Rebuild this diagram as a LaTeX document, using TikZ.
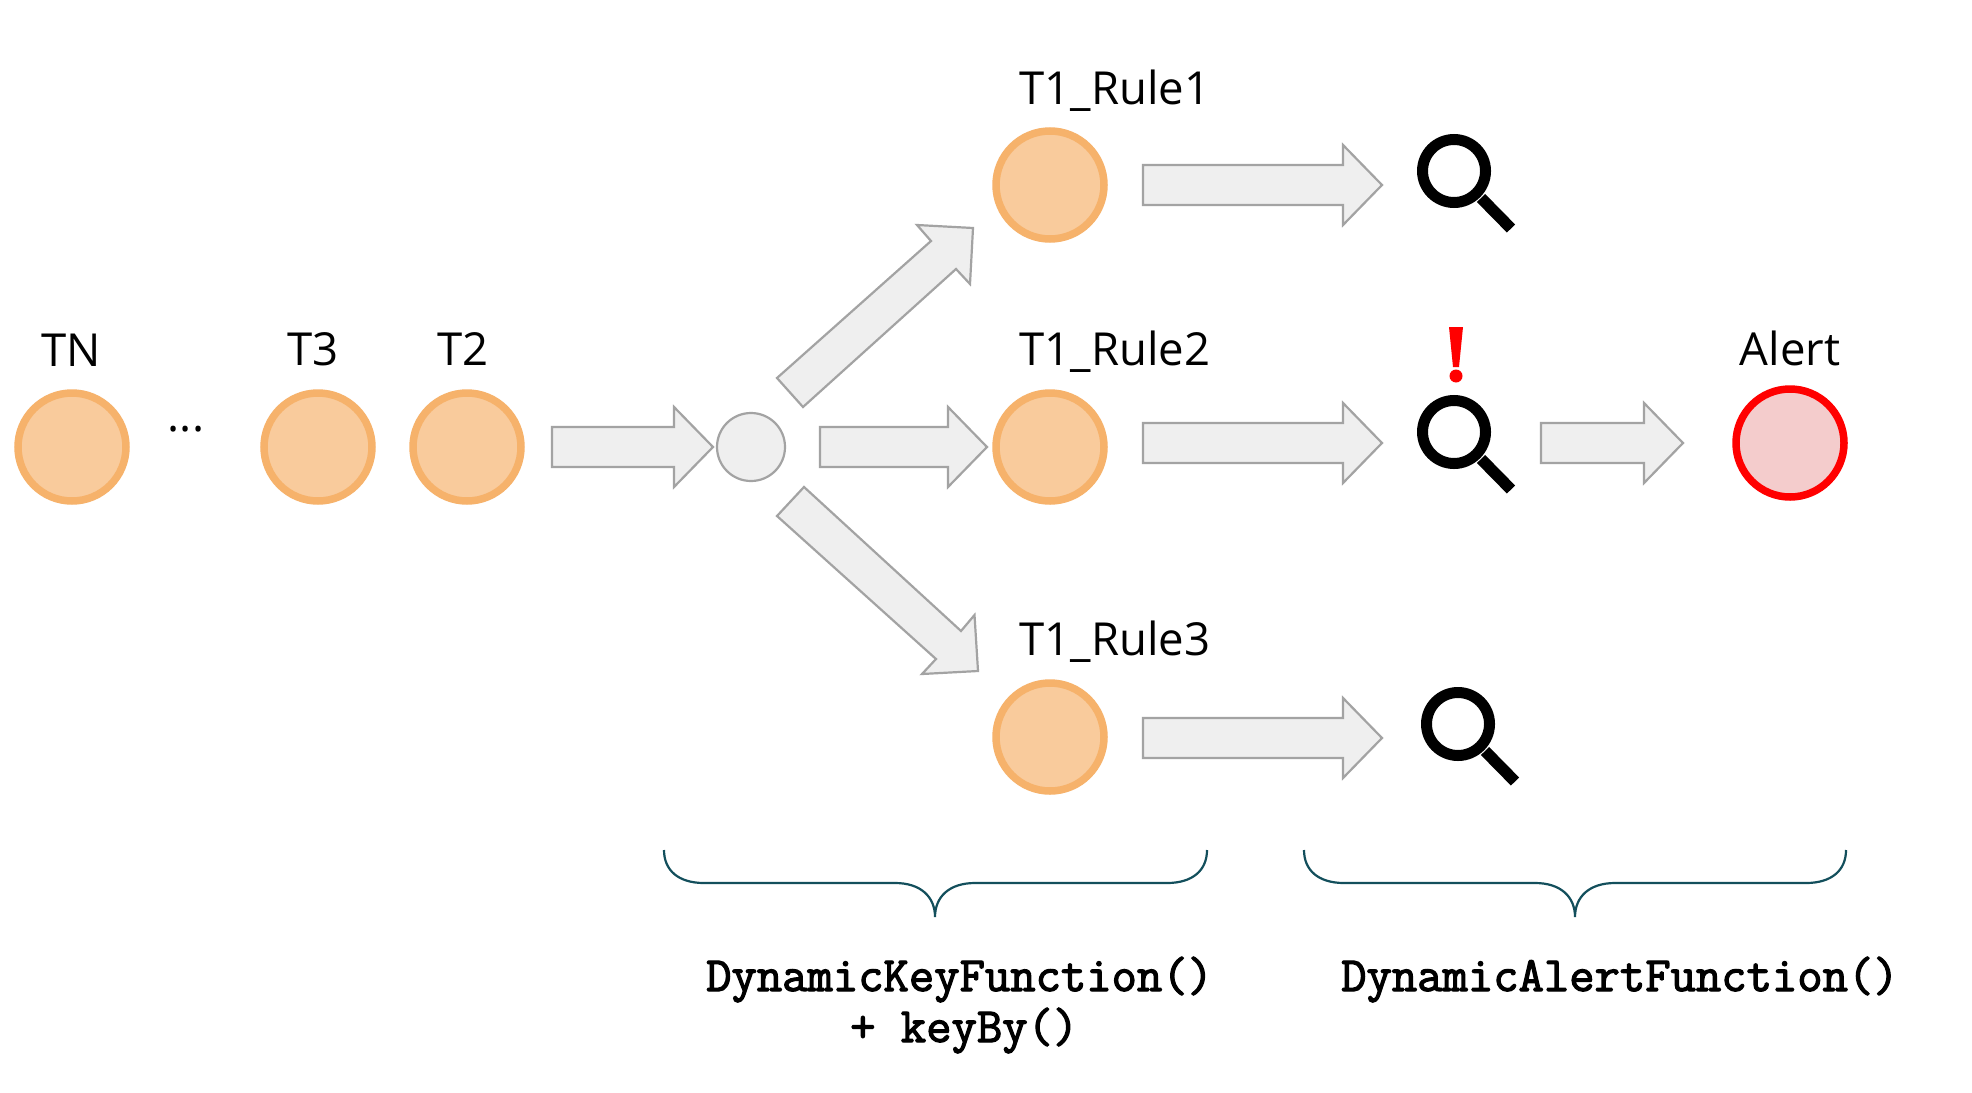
\documentclass[tikz,border=0pt]{standalone}
\usepackage{fontspec}
\setmainfont{Open Sans}
\newfontfamily\codefont[FakeBold=2.5]{Latin Modern Mono}
\definecolor{orf}{HTML}{F9CB9C}
\definecolor{ors}{HTML}{F6B26B}
\definecolor{arf}{HTML}{EFEFEF}
\definecolor{ars}{HTML}{A3A3A3}
\definecolor{alf}{HTML}{F4CCCC}
\definecolor{brc}{HTML}{134F5C}
\tikzset{
 x=1pt,y=-1pt,
 token/.style={circle,draw=ors,fill=orf,line width=7.5pt,minimum size=108pt,inner sep=0pt},
 alertc/.style={circle,draw=red,fill=alf,line width=7.5pt,minimum size=108pt,inner sep=0pt},
 hub/.style={circle,draw=ars,fill=arf,line width=2.2pt,minimum size=68pt,inner sep=0pt},
 lbl/.style={font=\fontsize{45.5}{45.5}\selectfont,anchor=base,inner sep=0pt},
 code/.style={font=\codefont\fontsize{49.2}{49.2}\selectfont,anchor=base west,inner sep=0pt},
 blockar/.style={draw=ars,fill=arf,line width=2.2pt,line join=miter},
 brace/.style={draw=brc,line width=2.2pt},
 glassring/.style={draw=black,line width=11pt},
}
\newcommand{\hblock}[4]{\draw[blockar] (#1,#4-20) -- (#2,#4-20) -- (#2,#4-40) -- (#3,#4) -- (#2,#4+40) -- (#2,#4+20) -- (#1,#4+20) -- cycle;}
\newcommand{\glass}[3]{%
 \node[circle,glassring,minimum size=63pt,inner sep=0pt] (#1) at (#2,#3) {};
 \draw[black,line width=11.5pt] (#2+27,#3+27) -- (#2+57,#3+57.5);}
\newcommand{\mybrace}[3]{\draw[brace] (#1,850) .. controls (#1,870) and (#1+14,883) .. (#1+40,883) -- (#2-40,883) .. controls (#2-14,883) and (#2,897) .. (#2,917) .. controls (#2,897) and (#2+14,883) .. (#2+40,883) -- (#3-40,883) .. controls (#3-14,883) and (#3,870) .. (#3,850);}
\begin{document}
\begin{tikzpicture}
\useasboundingbox (0,0) rectangle (1972,1092);
\fill[white] (0,0) rectangle (1972,1092);
\node[token] (tn) at (72,447) {};
\node[token] (t3) at (318,447) {};
\node[token] (t2) at (467,447) {};
\node[hub] (hub) at (751,447) {};
\node[token] (r1) at (1050,185) {};
\node[token] (r2) at (1050,447) {};
\node[token] (r3) at (1050,737) {};
\node[alertc] (alert) at (1790,443) {};
\node[lbl] (ltn) at (71,366) {TN};
\node[lbl] (lt3) at (313,365) {T3};
\node[lbl] (lt2) at (463,365) {T2};
\node[lbl] (ldots) at (186,431) {...};
\node[lbl] (lr1) at (1115,104) {T1\_Rule1};
\node[lbl] (lr2) at (1115,365) {T1\_Rule2};
\node[lbl] (lr3) at (1115,655) {T1\_Rule3};
\node[lbl] (lal) at (1790,365) {Alert};
\hblock{552}{674}{713}{447}
\hblock{820}{948}{987}{447}
\hblock{1143}{1343}{1382}{185}
\hblock{1143}{1343}{1382}{443}
\hblock{1143}{1343}{1382}{738}
\hblock{1541}{1644}{1683}{443}
\draw[blockar] (777,516) -- (804,487) -- (961,631) -- (974.5,615) -- (978,671) -- (922,674) -- (936,659) -- cycle;
\draw[blockar] (777,378) -- (803,407) -- (956,269) -- (970,284) -- (973,228) -- (917,225) -- (931,241) -- cycle;
\glass{g1}{1454}{171}
\glass{g2}{1454}{432}
\glass{g3}{1458}{724}
\fill[red] (1449,327) -- (1463,327) -- (1459,367) -- (1453,367) -- cycle;
\fill[red] (1456,376) circle (6.5);
\mybrace{664}{935}{1207}
\mybrace{1304}{1575}{1846}
\node[code] (c1) at (706,991) {DynamicKeyFunction()};
\node[code] (c2) at (850,1042) {+ keyBy()};
\node[code] (c3) at (1341,991) {DynamicAlertFunction()};
\end{tikzpicture}
\end{document}
